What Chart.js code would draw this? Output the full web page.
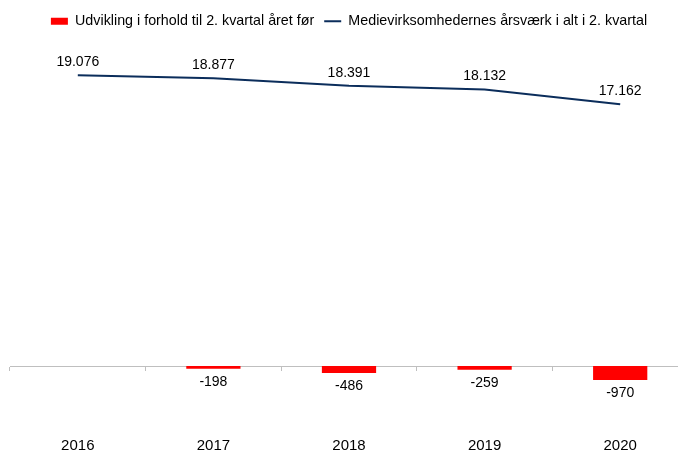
<!DOCTYPE html>
<html>
<head>
<meta charset="utf-8">
<script src="https://cdn.jsdelivr.net/npm/chart.js@4"></script>
<style>
  html, body { margin: 0; padding: 0; background: #fff; }
  #wrap { width: 678px; height: 450px; overflow: hidden; }
</style>
</head>
<body>
<div id="wrap"><canvas id="chart" width="690" height="460"></canvas></div>
<script>
// data
const years = ['2016', '2017', '2018', '2019', '2020'];
const change = [null, -198, -486, -259, -970];
const totals = [19076, 18877, 18391, 18132, 17162];
const changeLabel = 'Udvikling i forhold til 2. kvartal året før';
const totalLabel = 'Medievirksomhedernes årsværk i alt i 2. kvartal';

// danish number format: 19.076
fmt = function(v){
  let s = Math.abs(v).toString().replace(/\B(?=(\d{3})+(?!\d))/g, '.');
  return (v < 0 ? '-' : '') + s;
}

const labelFont = '14px "Liberation Sans", Arial, sans-serif';

// value labels above the line, below the bars
const valueLabels = {
  id: 'valueLabels',
  afterDatasetsDraw(chart) {
    const ctx = chart.ctx;
    ctx.save();
    ctx.font = labelFont;
    ctx.fillStyle = '#000';
    ctx.textAlign = 'center';
    ctx.textBaseline = 'middle';
    chart.data.datasets.forEach((ds, i) => {
      chart.getDatasetMeta(i).data.forEach((el, j) => {
        const v = ds.data[j];
        if (v == null) return;
        const y = ds.type === 'line' ? el.y - 13 : el.y + 13;
        ctx.fillText(fmt(v), el.x, y);
      });
    });
    ctx.restore();
  }
};

const config = {
  type: 'bar',
  data: {
    labels: years,
    datasets: [{
      label: changeLabel,
      data: change,
      backgroundColor: '#ff0000',
      borderWidth: 0,
      barPercentage: 0.4,
      categoryPercentage: 1,
      xAxisID: 'x',
      yAxisID: 'y'
    }, {
      type: 'line',
      label: totalLabel,
      data: totals,
      borderColor: '#0b2d5b',
      backgroundColor: '#0b2d5b',
      borderWidth: 2,
      pointRadius: 0,
      tension: 0,
      xAxisID: 'x',
      yAxisID: 'y1'
    }]
  },
  options: {
    responsive: false,
    animation: false,
    devicePixelRatio: 1,
    layout: { padding: { left: 10, right: 2, top: 4, bottom: 2 } },
    plugins: {
      tooltip: { enabled: false },
      legend: {
        position: 'top',
        labels: {
          color: '#000',
          font: { family: '"Liberation Sans", Arial, sans-serif', size: 14.3 },
          usePointStyle: true,
          pointStyleWidth: 17,
          boxHeight: 7,
          padding: 10,
          generateLabels(chart) {
            const items = Chart.defaults.plugins.legend.labels.generateLabels(chart);
            items.sort((a, b) => a.datasetIndex - b.datasetIndex);
            items.forEach(it => {
              if (it.datasetIndex === 0) { it.pointStyle = 'rect'; it.lineWidth = 0; }
              else { it.pointStyle = 'line'; it.lineWidth = 2; }
            });
            return items;
          }
        }
      }
    },
    scales: {
      // zero line with the small category ticks
      x: {
        type: 'category',
        position: { y: 0 },
        offset: true,
        grid: { offset: true, drawOnChartArea: false, drawTicks: true, tickLength: 4, color: '#bfbfbf' },
        border: { display: true, color: '#bfbfbf', width: 1 },
        ticks: { display: false }
      },
      // year labels at the bottom
      x2: {
        type: 'category',
        position: 'bottom',
        offset: true,
        grid: { display: false, drawTicks: false },
        border: { display: false },
        ticks: { color: '#000', font: { family: '"Liberation Sans", Arial, sans-serif', size: 15 }, padding: 3 }
      },
      y: {
        display: false,
        min: -4722,
        max: 22757
      },
      y1: {
        display: false,
        min: -4601,
        max: 21518
      }
    }
  },
  plugins: [valueLabels]
};

window.onload = () => {
  new Chart(document.getElementById('chart'), config);
}
</script>
</body>
</html>
